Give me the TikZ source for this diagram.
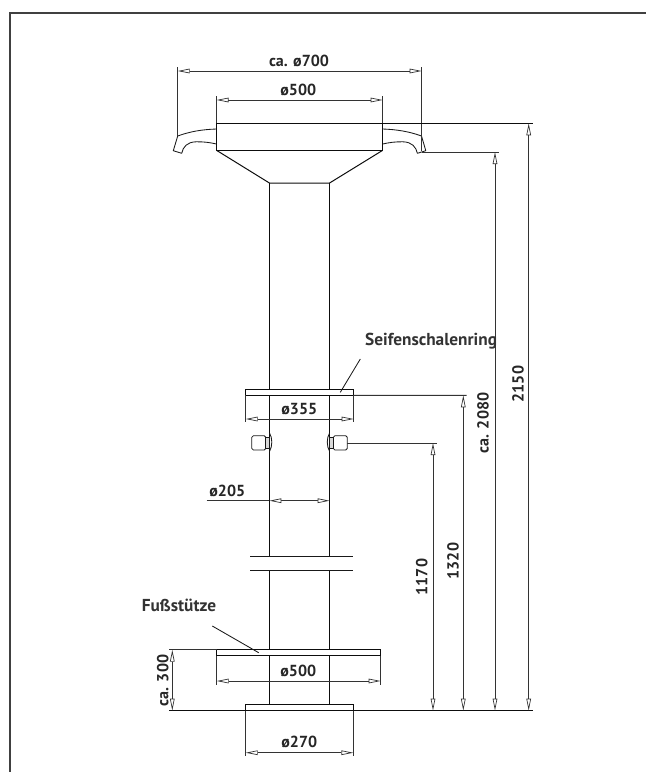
\documentclass[tikz,border=0pt]{standalone}
\usepackage{fontspec}
\setmainfont{PT Sans}
\usetikzlibrary{arrows.meta}
\tikzset{
  x=1pt,y=-1pt,
  part/.style={line width=1pt,black!95},
  thin part/.style={line width=0.85pt,black!90},
  dimline/.style={line width=0.95pt,black!80},
  dim/.style={dimline,{Triangle[length=12pt,width=4.6pt,fill=white,line width=0.7pt]}-{Triangle[length=12pt,width=4.6pt,fill=white,line width=0.7pt]}},
  label/.style={font=\bfseries\fontsize{16}{18}\selectfont,text=black!85,inner sep=0pt},
  callout/.style={font=\bfseries\fontsize{17.3}{19}\selectfont,text=black!80,inner sep=0pt},
  frameline/.style={line width=1.5pt,black!75}
}
\begin{document}
\begin{tikzpicture}
\useasboundingbox (0,0) rectangle (646,772);
% frame
\coordinate (fa) at (10,772); \coordinate (fb) at (10,13); \coordinate (fc) at (646,13);
\draw[frameline] (fa) -- (fb) -- (fc);

% head handles
\draw[thin part,line join=round] (216.5,129) .. controls (202,129.5) and (190,131.5) .. (177.7,136) -- (173.3,150.7) -- (181.7,153.3) .. controls (183,147) and (187,142) .. (196,141.8) .. controls (203,141.6) and (210,142.5) .. (216.5,144);
\draw[thin part,line join=round] (382.7,129) .. controls (397,129.5) and (409,131.5) .. (421.5,136) -- (425.8,150.7) -- (417.4,153.3) .. controls (416,147) and (412,142) .. (403,141.8) .. controls (396,141.6) and (389,142.5) .. (382.7,144);
% head
\node[part,draw,fill=white,minimum width=166.2pt,minimum height=27pt,inner sep=0pt,outer sep=0pt,anchor=north west] (head) at (216.5,123.3) {};
\coordinate (neckL) at (269.4,183); \coordinate (neckR) at (329.6,183);
\draw[part] (head.south west) -- (neckL) -- (neckR) -- (head.south east);

% column
\coordinate (breakTL) at (269.4,556.3); \coordinate (breakTR) at (329.6,556.3);
\coordinate (breakBL) at (269.4,570.7); \coordinate (breakBR) at (329.6,570.7);
\draw[part] (neckL) -- (breakTL) (neckR) -- (breakTR);
\draw[part] (breakBL) -- (269.4,704.7) (breakBR) -- (329.6,704.7);
\coordinate (b1) at (250,556.3); \coordinate (b2) at (352.7,556.3);
\coordinate (b3) at (250,570.7); \coordinate (b4) at (352.7,570.7);
\draw[thin part] (b1) -- (b2) (b3) -- (b4);

% soap ring
\node[part,draw,fill=white,minimum width=108pt,minimum height=6.3pt,inner sep=0pt,outer sep=0pt,anchor=north west] (ring) at (245.7,389) {};
% foot rest
\node[part,draw,fill=white,minimum width=164pt,minimum height=5.8pt,inner sep=0pt,outer sep=0pt,anchor=north west] (rest) at (216.7,649.7) {};
% base
\node[part,draw,fill=white,minimum width=107.6pt,minimum height=6pt,inner sep=0pt,outer sep=0pt,anchor=north west] (base) at (245.7,704.7) {};

% bolts
\foreach \s/\n in {0/R,1/L}{
  \begin{scope}[xshift=\s*599.1pt,xscale=1-2*\s]
    \draw[thin part,fill=white,rounded corners=1.6pt] (333.3,435.7) rectangle (347.3,450);
    \draw[thin part,fill=black!15] (329.6,437.5) rectangle (333.3,448.5);
    \draw[thin part] (329.6,433) .. controls (326.5,438) and (326.5,446) .. (329.6,451.5);
  \end{scope}
}

% top dimension lines
\coordinate (e700La) at (177.7,67); \coordinate (e700Lb) at (177.7,136);
\coordinate (e700Ra) at (421.7,67); \coordinate (e700Rb) at (421.7,151);
\draw[dimline] (e700La) -- (e700Lb) (e700Ra) -- (e700Rb);
\draw[dim] (177.7,71) -- (421.7,71);
\draw[dimline] (216.5,96) -- (216.5,123.3) (382.7,96) -- (382.7,123.3);
\draw[dim] (216.5,100) -- (382.7,100);

% right extension lines
\coordinate (x2150) at (532.7,123.3);
\coordinate (x2080) at (499.3,152);
\coordinate (x1320) at (466.7,395.3);
\coordinate (x1170) at (436.7,443);
\coordinate (xbase) at (532.7,710.7);
\draw[part] (head.north east) -- (x2150);
\draw[dimline] (422,152) -- (x2080);
\draw[dimline] (ring.south east) -- (x1320);
\draw[dimline] (347.3,443) -- (x1170);
\draw[part] (169.3,710.7) -- (xbase);
\draw[dim] (528.7,123.3) -- (528.7,710.7);
\draw[dim] (495,152) -- (495,710.7);
\draw[dim] (463.3,395.3) -- (463.3,710.7);
\draw[dim] (433,443) -- (433,710.7);

% o355
\draw[dimline] (245.7,395.3) -- (245.7,422) (353.7,395.3) -- (353.7,422);
\draw[dim] (245.7,419) -- (353.7,419);
% o205
\coordinate (o205a) at (206.7,500.7);
\draw[dimline] (o205a) -- (269.4,500.7);
\draw[dim] (269.4,500.7) -- (329.6,500.7);
% rest dims
\draw[dimline] (216.7,655.5) -- (216.7,685) (380.7,655.5) -- (380.7,685);
\draw[dim] (216.7,681) -- (380.7,681);
\draw[dimline] (169.3,649.7) -- (216.7,649.7);
\draw[dim] (172.3,649.7) -- (172.3,710.7);
% base dim
\draw[dimline] (245.7,710.7) -- (245.7,755.7) (353.3,710.7) -- (353.3,755.7);
\draw[dim] (245.7,752.7) -- (353.3,752.7);

% leaders
\coordinate (l1) at (360.3,359); \coordinate (l2) at (340.3,392.3);
\draw[thin part] (l1) -- (l2);
\coordinate (l3) at (212.3,626); \coordinate (l4) at (258.7,652.7);
\draw[thin part] (l3) -- (l4);

% labels
\node[label] (t700) at (299,61) {ca. ø700};
\node[label] (t500a) at (298.3,90) {ø500};
\node[label] (t355) at (299.3,408.7) {ø355};
\node[label] (t205) at (227.3,491) {ø205};
\node[label] (t500b) at (298.3,670.7) {ø500};
\node[label] (t270) at (299.3,741.7) {ø270};
\node[label,rotate=90] (t300) at (162.7,680.5) {ca. 300};
\node[label,rotate=90] (t1170) at (421.7,577) {1170};
\node[label,rotate=90] (t1320) at (453,561) {1320};
\node[label,rotate=90] (t2080) at (483,423) {ca. 2080};
\node[label,rotate=90] (t2150) at (518,384) {2150};
\node[callout,anchor=west] (seif) at (365,340.7) {Seifenschalenring};
\node[callout,anchor=west] (fuss) at (141.7,605) {Fußstütze};
\end{tikzpicture}
\end{document}
